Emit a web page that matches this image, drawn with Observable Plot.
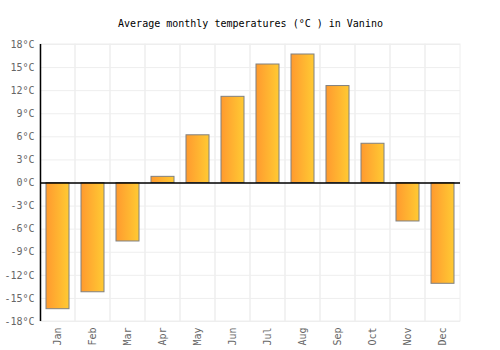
<!DOCTYPE html>
<html>
<head>
<meta charset="utf-8">
<script src="https://cdn.jsdelivr.net/npm/d3@7"></script>
<script src="https://cdn.jsdelivr.net/npm/@observablehq/plot@0.6"></script>
<style>
  html, body { margin: 0; padding: 0; background: #fff; }
  #chart svg { display: block; }
</style>
</head>
<body>
<div id="chart"></div>
<script>
const months = ["Jan","Feb","Mar","Apr","May","Jun","Jul","Aug","Sep","Oct","Nov","Dec"];
const temps = [-16.4, -14.2, -7.6, 0.8, 6.2, 11.2, 15.4, 16.7, 12.6, 5.1, -5.0, -13.1];
const yTicks = [-18, -15, -12, -9, -6, -3, 0, 3, 6, 9, 12, 15, 18];
const title = "Average monthly temperatures (°C ) in Vanino";

const data = months.map((m, i) => ({month: m, temp: temps[i]}));
const font = "'DejaVu Sans Mono', monospace";

const chart = Plot.plot({
  width: 500,
  height: 350,
  marginLeft: 40,
  marginRight: 40,
  marginTop: 44,
  marginBottom: 29,
  style: {fontFamily: font, fontSize: "10px", color: "#666", background: "#fff"},
  x: {domain: months, padding: 0, label: null, tickSize: 0, tickPadding: 6, tickRotate: -90},
  y: {domain: [-18, 18], ticks: yTicks, tickFormat: d => `${d}°C`, label: null, tickSize: 0, tickPadding: 6},
  marks: [
    Plot.barY(months, {x: d => d, y1: -18, y2: 18, fill: "none", stroke: "#eeeeee", strokeWidth: 1}),
    Plot.ruleY(yTicks, {stroke: "#eeeeee", strokeWidth: 1}),
    Plot.barY(data, {x: "month", y: "temp", fill: "url(#barGrad)", stroke: "#808080", strokeWidth: 1, insetLeft: 6, insetRight: 6}),
    Plot.ruleY([0], {stroke: "#000", strokeWidth: 1.5}),
    Plot.ruleX(["Jan"], {x: d => d, dx: -17.5, y1: -18, y2: 18, stroke: "#000", strokeWidth: 1.5}),
    Plot.text([title], {text: d => d, frameAnchor: "top", lineAnchor: "middle", dy: -21, fill: "#000", fontSize: 10, fontFamily: font})
  ]
});

const defs = document.createElementNS("http://www.w3.org/2000/svg", "defs");
defs.innerHTML = `<linearGradient id="barGrad" x1="0" y1="0" x2="1" y2="0">
  <stop offset="0" stop-color="#ff9a2f"/>
  <stop offset="1" stop-color="#ffca33"/>
</linearGradient>`;
chart.insertBefore(defs, chart.firstChild);
document.getElementById("chart").appendChild(chart);
</script>
</body>
</html>
